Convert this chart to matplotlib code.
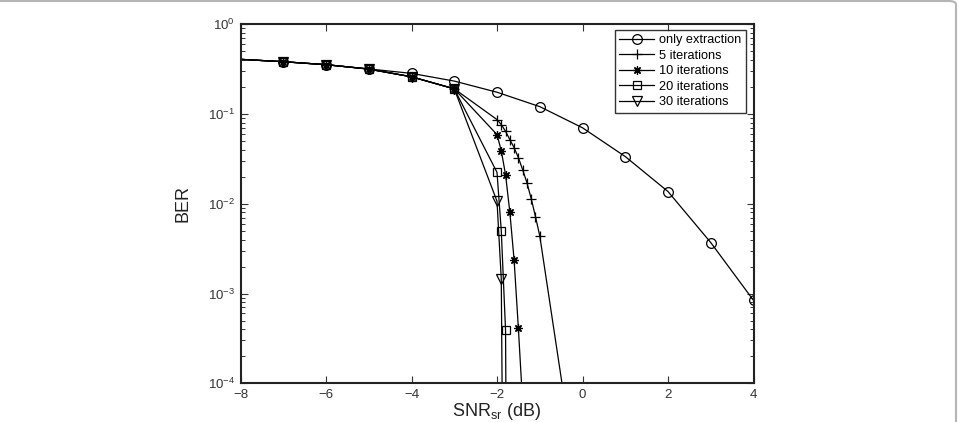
import numpy as np
import matplotlib
matplotlib.use("Agg")
import matplotlib.pyplot as plt
from matplotlib.patches import FancyBboxPatch
from matplotlib.ticker import LogLocator, NullFormatter

plt.rcParams["font.family"] = ["Liberation Sans", "DejaVu Sans"]

# ---------------------------
# Data
# ---------------------------
snr_extract = [-8, -7, -6, -5, -4, -3, -2, -1, 0, 1, 2, 3, 4]
ber_extract = [0.407, 0.383, 0.355, 0.318, 0.284, 0.233, 0.175, 0.121,
               0.0703, 0.0336, 0.0137, 0.0037, 0.00084]

snr_common = [-8, -7, -6, -5, -4, -3]
ber_common = [0.407, 0.383, 0.355, 0.317, 0.26, 0.191]

snr_5 = [-2.0, -1.9, -1.8, -1.7, -1.6, -1.5, -1.4, -1.3, -1.2, -1.1, -1.0, -0.4]
ber_5 = [0.0868, 0.0763, 0.0643, 0.0519, 0.0423, 0.0327, 0.024, 0.0172,
         0.0114, 0.0072, 0.0044, 5.6e-5]

snr_10 = [-2.0, -1.9, -1.8, -1.7, -1.6, -1.5, -1.4]
ber_10 = [0.059, 0.039, 0.0211, 0.0081, 0.00237, 0.00041, 6e-5]

snr_20 = [-2.0, -1.9, -1.8, -1.7]
ber_20 = [0.0224, 0.0050, 0.00039, 1e-12]

snr_30 = [-2.0, -1.9, -1.8]
ber_30 = [0.0107, 0.00145, 1e-9]

labels = ["only extraction", "5 iterations", "10 iterations",
          "20 iterations", "30 iterations"]
markers = ["o", "+", (8, 2, 0), "s", "v"]

# ---------------------------
# Figure
# ---------------------------
fig = plt.figure(figsize=(9.6, 4.22), dpi=100)
ax = fig.add_axes([240.5 / 960, (422 - 383.3) / 422,
                   (753.5 - 240.5) / 960, (383.3 - 24.3) / 422])

# outer frame (only top / right edges visible)
frame = FancyBboxPatch((-20 / 960, -20 / 422), 976 / 960, 441 / 422,
                       boxstyle="round,pad=0,rounding_size=0.008",
                       transform=fig.transFigure, fill=False,
                       edgecolor="#b5b5b5", lw=1.5, zorder=0)
fig.patches.append(frame)

series = [
    (snr_extract, ber_extract),
    (snr_common + snr_5, ber_common + ber_5),
    (snr_common + snr_10, ber_common + ber_10),
    (snr_common + snr_20, ber_common + ber_20),
    (snr_common + snr_30, ber_common + ber_30),
]
sizes = [7, 7, 6, 5.5, 6.5]

for (x, y), lab, mk, ms in zip(series, labels, markers, sizes):
    ax.semilogy(x, y, color="black", lw=0.9, marker=mk, ms=ms,
                mfc="none", mec="black", mew=0.9,
                markevery=slice(1, None), label=lab)

ax.set_xlim(-8, 4)
ax.set_ylim(1e-4, 1)
ax.set_xticks([-8, -6, -4, -2, 0, 2, 4])
ax.set_xticklabels(["\u22128", "\u22126", "\u22124", "\u22122", "0", "2", "4"])
ax.yaxis.set_major_locator(LogLocator(base=10, numticks=10))
ax.yaxis.set_minor_locator(LogLocator(base=10, subs=np.arange(2, 10), numticks=10))
ax.yaxis.set_minor_formatter(NullFormatter())

ax.tick_params(which="both", direction="in", top=True, right=True,
               labelsize=9.5, colors="#333333", labelcolor="#333333")
ax.tick_params(which="major", length=5, width=0.8, pad=4)
ax.tick_params(which="minor", length=3, width=0.7)
for s in ax.spines.values():
    s.set_linewidth(1.5)
    s.set_color("#222222")

ax.set_ylabel("BER", fontsize=13, color="#222222", labelpad=12)
ax.set_xlabel("SNR$_{\\mathregular{sr}}$ (dB)", fontsize=13,
              color="#222222", labelpad=0)

leg = ax.legend(loc="upper right", bbox_to_anchor=(0.985, 0.985),
                fontsize=9.2, frameon=True, fancybox=False,
                handlelength=2.7, handletextpad=0.4, borderpad=0.35,
                labelspacing=0.28, borderaxespad=0.0)
leg.get_frame().set_edgecolor("black")
leg.get_frame().set_linewidth(1.0)

fig.savefig("out.png", dpi=100)
